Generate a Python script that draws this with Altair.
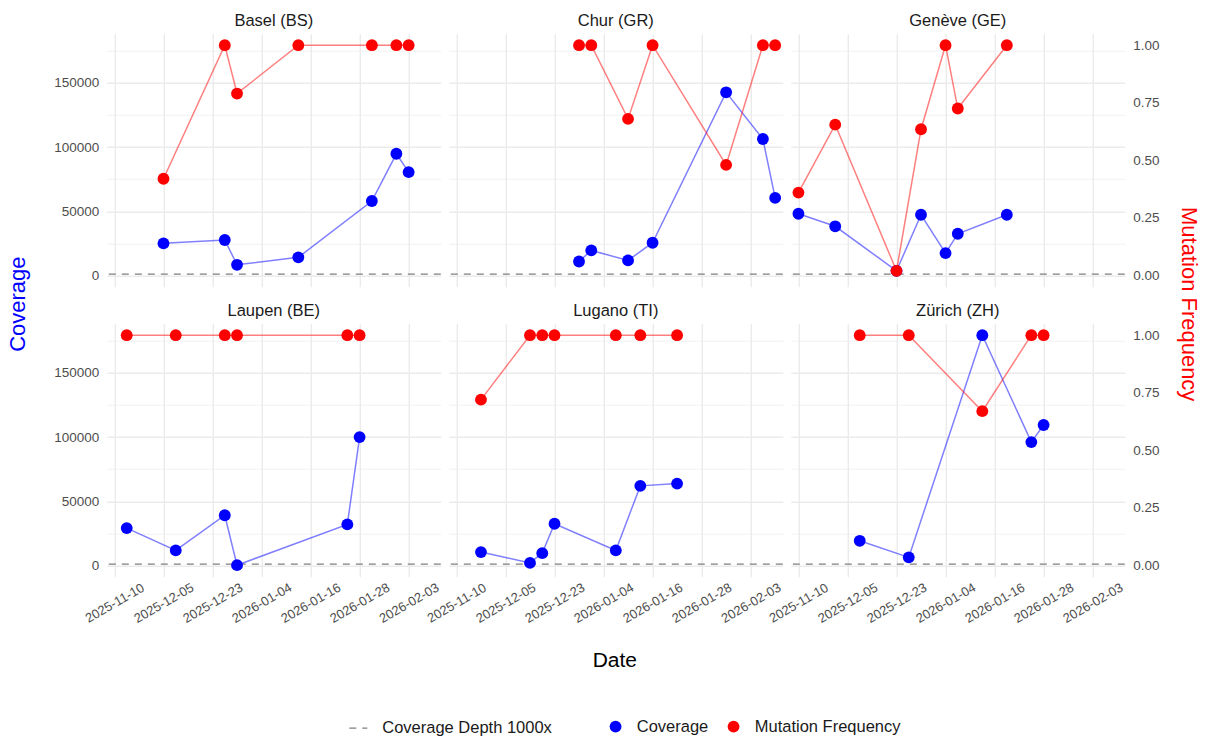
import altair as alt
import pandas as pd

# Sampling sites, in facet order (row-major, 3 per row)
sites = ["Basel (BS)", "Chur (GR)", "Genève (GE)", "Laupen (BE)", "Lugano (TI)", "Zürich (ZH)"]

basel_dates = ["2025-12-11", "2025-12-26", "2025-12-29", "2026-01-13", "2026-01-31", "2026-02-06", "2026-02-09"]
basel_coverage = [25000, 27600, 8300, 14100, 58000, 94800, 80500]
basel_freq = [0.42, 1.0, 0.79, 1.0, 1.0, 1.0, 1.0]

chur_dates = ["2025-12-29", "2026-01-01", "2026-01-10", "2026-01-16", "2026-02-03", "2026-02-12", "2026-02-15"]
chur_coverage = [10900, 19500, 11700, 25500, 142700, 106300, 60400]
chur_freq = [1.0, 1.0, 0.68, 1.0, 0.48, 1.0, 1.0]

geneve_dates = ["2025-11-29", "2025-12-08", "2025-12-23", "2025-12-29", "2026-01-04", "2026-01-07", "2026-01-19"]
geneve_coverage = [48100, 38300, 3600, 47300, 17400, 32500, 47300]
geneve_freq = [0.36, 0.655, 0.02, 0.635, 1.0, 0.725, 1.0]

laupen_dates = ["2025-12-02", "2025-12-14", "2025-12-26", "2025-12-29", "2026-01-25", "2026-01-28"]
laupen_coverage = [29100, 11700, 39100, 200, 32000, 100000]
laupen_freq = [1.0, 1.0, 1.0, 1.0, 1.0, 1.0]

lugano_dates = ["2025-12-05", "2025-12-17", "2025-12-20", "2025-12-23", "2026-01-07", "2026-01-13", "2026-01-22"]
lugano_coverage = [10400, 2000, 9600, 32500, 11700, 62000, 63800]
lugano_freq = [0.72, 1.0, 1.0, 1.0, 1.0, 1.0, 1.0]

zurich_dates = ["2025-12-14", "2025-12-26", "2026-01-13", "2026-01-25", "2026-01-28"]
zurich_coverage = [19200, 6300, 179400, 96100, 109400]
zurich_freq = [1.0, 1.0, 0.67, 1.0, 1.0]

# x-axis break positions and the text printed under each of them
x_break_dates = ["2025-11-29", "2025-12-11", "2025-12-23", "2026-01-04", "2026-01-16", "2026-01-28", "2026-02-09"]
x_break_labels = ["2025-11-10", "2025-12-05", "2025-12-23", "2026-01-04", "2026-01-16", "2026-01-28", "2026-02-03"]

coverage_gridlines = [0, 25000, 50000, 75000, 100000, 125000, 150000, 175000]
freq_ticks = [0, 0.25, 0.5, 0.75, 1.0]
depth_threshold = 1000
depth_label = "Coverage Depth 1000x"
series_names = ["Coverage", "Mutation Frequency"]
series_colors = ["#0000ff", "#ff0000"]

site_dates = [basel_dates, chur_dates, geneve_dates, laupen_dates, lugano_dates, zurich_dates]
site_coverage = [basel_coverage, chur_coverage, geneve_coverage, laupen_coverage, lugano_coverage, zurich_coverage]
site_freq = [basel_freq, chur_freq, geneve_freq, laupen_freq, lugano_freq, zurich_freq]

FONT = "Liberation Sans"
GRID = "#ebebeb"
AXIS_TEXT = "#4d4d4d"
PANEL_W, PANEL_H = 334, 253
H_GAP, V_GAP = 8, 37


def ms(d):
    return int(pd.Timestamp(d, tz="UTC").value // 10**6)


# Secondary axis: frequency is drawn against coverage scaled by the largest coverage
all_cov = [v for s in site_coverage for v in s]
scale_factor = max(all_cov)
all_y = all_cov + [f * scale_factor for s in site_freq for f in s] + [depth_threshold]
y_lo, y_hi = min(all_y), max(all_y)
y_pad = 0.05 * (y_hi - y_lo)
cov_domain = [y_lo - y_pad, y_hi + y_pad]
freq_domain = [cov_domain[0] / scale_factor, cov_domain[1] / scale_factor]

all_t = [ms(d) for s in site_dates for d in s]
t_lo, t_hi = min(all_t), max(all_t)
t_pad = 0.024 * (t_hi - t_lo)
x_domain = [t_lo - t_pad, t_hi + t_pad]

x_values = [ms(d) for d in x_break_dates]
x_step = x_values[1] - x_values[0]
labels_js = "[" + ",".join(f"'{s}'" for s in x_break_labels) + "]"
x_label_expr = f"{labels_js}[round((datum.value - {x_values[0]}) / {x_step})]"


def x_axis(row, col):
    kw = dict(
        values=x_values, labelExpr=x_label_expr, labels=(row == 1),
        grid=True, gridColor=GRID, gridWidth=1.4, domain=False, ticks=False, tickSize=0,
        labelAngle=330, labelAlign="center", labelBaseline="middle", labelPadding=26,
        labelFlush=False, labelOverlap=False, labelFont=FONT, labelFontSize=13, labelColor=AXIS_TEXT,
        title=None,
    )
    if row == 1 and col == 1:
        kw.update(title="Date", titleFont=FONT, titleFontSize=21, titleFontWeight="normal",
                  titleColor="#000000", titleX=165.5, titleY=83.5, titleAlign="center",
                  titleBaseline="middle", titleAngle=0)
    return alt.Axis(**kw)


def cov_axis(row, col):
    kw = dict(
        values=coverage_gridlines, format="d",
        labelExpr="datum.value % 50000 === 0 ? datum.label : ''",
        labels=(col == 0), grid=True, gridColor=GRID,
        gridWidth={"condition": {"test": "datum.value % 50000 === 0", "value": 1.4}, "value": 0.7},
        domain=False, ticks=False, tickSize=0, labelPadding=8, labelFlush=False,
        labelFont=FONT, labelFontSize=13.5, labelColor=AXIS_TEXT, title=None,
    )
    if row == 0 and col == 0:
        kw.update(title="Coverage", titleFont=FONT, titleFontSize=22, titleFontWeight="normal",
                  titleColor="#0000ff", titleX=-89.3, titleY=270, titleAngle=270,
                  titleAlign="center", titleBaseline="middle")
    return alt.Axis(**kw)


def freq_axis(row, col):
    if col != 2:
        return None
    kw = dict(
        orient="right", values=freq_ticks, format=".2f", grid=False, domain=False,
        ticks=False, tickSize=0, labelPadding=8, labelFlush=False,
        labelFont=FONT, labelFontSize=13.5, labelColor=AXIS_TEXT, title=None,
    )
    if row == 0:
        kw.update(title="Mutation Frequency", titleFont=FONT, titleFontSize=22,
                  titleFontWeight="normal", titleColor="#ff0000", titleX=64, titleY=270,
                  titleAngle=90, titleAlign="center", titleBaseline="middle")
    return alt.Axis(**kw)


color_enc = alt.Color(
    "series:N",
    scale=alt.Scale(domain=series_names, range=series_colors),
    legend=alt.Legend(
        orient="none", legendX=500.5, legendY=684.5, direction="horizontal", title=None,
        symbolType="circle", symbolSize=140, symbolOpacity=1, labelFont=FONT,
        labelFontSize=16.5, labelColor="#1a1a1a", labelOffset=13, columnPadding=16,
        labelLimit=400,
    ),
)

dash_enc = alt.StrokeDash(
    "label:N",
    scale=alt.Scale(domain=[depth_label], range=[[7, 6]]),
    legend=alt.Legend(
        orient="none", legendX=241.5, legendY=684.5, direction="horizontal", title=None,
        symbolStrokeColor="#7f7f7f", symbolStrokeWidth=1.3, symbolSize=324,
        labelFont=FONT, labelFontSize=16.5, labelColor="#1a1a1a", labelOffset=14,
        labelLimit=400,
    ),
)

no_frame = alt.ViewBackground(stroke="transparent", strokeWidth=0)


def panel(idx):
    row, col = divmod(idx, 3)
    dates, cov, freq = site_dates[idx], site_coverage[idx], site_freq[idx]
    cov_df = pd.DataFrame({"date": dates, "value": cov, "series": series_names[0]})
    freq_df = pd.DataFrame({"date": dates, "value": freq, "series": series_names[1]})
    depth_df = pd.DataFrame({"value": [depth_threshold], "label": [depth_label]})

    x = alt.X("date:T", scale=alt.Scale(type="utc", domain=x_domain, nice=False), axis=x_axis(row, col))
    y_cov = alt.Y("value:Q", scale=alt.Scale(domain=cov_domain, nice=False, zero=False), axis=cov_axis(row, col))
    y_freq = alt.Y("value:Q", scale=alt.Scale(domain=freq_domain, nice=False, zero=False), axis=freq_axis(row, col))

    depth_rule = alt.Chart(depth_df).mark_rule(color="#7f7f7f", strokeWidth=1.3).encode(
        y=y_cov, strokeDash=dash_enc
    )
    cov_line = alt.Chart(cov_df).mark_line(color=series_colors[0], strokeWidth=1.5, opacity=0.5).encode(x=x, y=y_cov)
    cov_pts = alt.Chart(cov_df).mark_circle(size=140, opacity=1).encode(x=x, y=y_cov, color=color_enc)
    freq_line = alt.Chart(freq_df).mark_line(color=series_colors[1], strokeWidth=1.5, opacity=0.5).encode(x=x, y=y_freq)
    freq_pts = alt.Chart(freq_df).mark_circle(size=140, opacity=1).encode(x=x, y=y_freq, color=color_enc)

    cov_layer = alt.layer(depth_rule, cov_line, cov_pts).properties(view=no_frame)
    freq_layer = alt.layer(freq_line, freq_pts).properties(view=no_frame)
    return alt.layer(cov_layer, freq_layer).resolve_scale(y="independent").properties(
        width=PANEL_W, height=PANEL_H, view=no_frame,
        title=alt.TitleParams(text=sites[idx], font=FONT, fontSize=16.5, fontWeight="normal",
                              color="#1a1a1a", anchor="middle", offset=4),
    )


chart = (
    alt.concat(*[panel(i) for i in range(6)], columns=3,
               spacing={"row": V_GAP, "column": H_GAP}, bounds="flush")
    .resolve_scale(color="shared", strokeDash="shared")
    .properties(padding={"left": 5.8, "top": 12.7, "right": 0, "bottom": 0}, background="white")
    .configure_view(stroke="transparent", strokeWidth=0)
    .configure(font=FONT)
)

chart.save("out.html", embed_options={"renderer": "svg", "actions": False})
